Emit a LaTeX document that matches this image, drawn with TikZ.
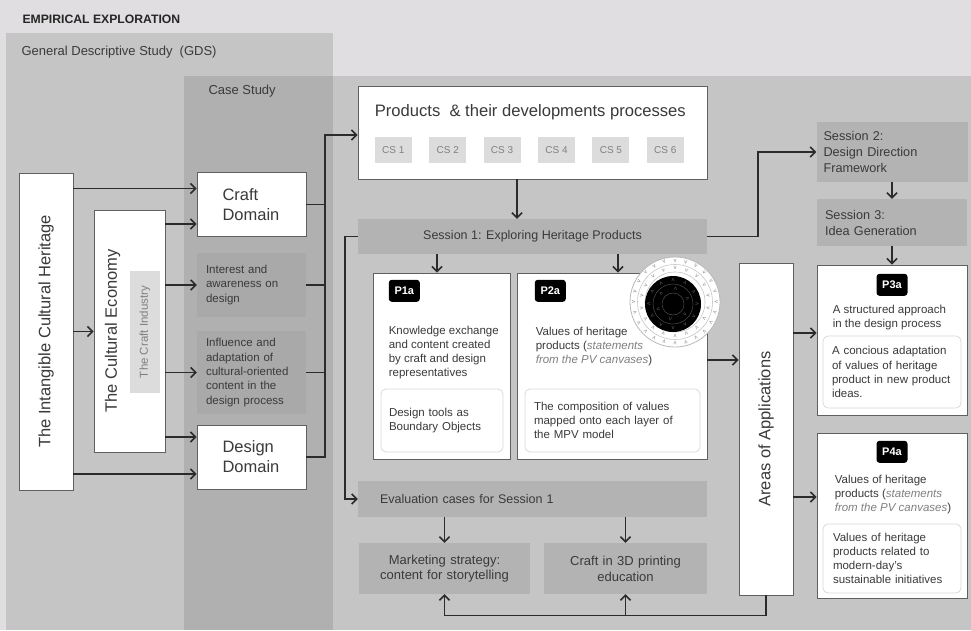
\documentclass[tikz,border=0pt]{standalone}
\usepackage{fontspec}
\setmainfont{Liberation Sans}
\usepackage{xcolor}
\usepackage{tikz}
\usetikzlibrary{arrows.meta, positioning, calc}

\definecolor{bandgray}{HTML}{E0DEE0}
\definecolor{panelgray}{HTML}{C5C5C5}
\definecolor{casegray}{HTML}{B0B0B0}
\definecolor{notegray}{HTML}{A9A9A9}
\definecolor{bargray}{HTML}{B3B3B3}
\definecolor{taggray}{HTML}{DCDCDC}
\definecolor{inkgray}{HTML}{3A3A3A}
\definecolor{boxline}{HTML}{606060}
\definecolor{innerline}{HTML}{DADADA}
\definecolor{linegray}{HTML}{2B2B2B}

\begin{document}
\begin{tikzpicture}[
    x=1pt, y=-1pt,
    card/.style={draw=boxline, fill=white, line width=0.8pt, text=inkgray},
    domainbox/.style={card, minimum width=109, minimum height=64, inner xsep=25.5pt, text width=58pt, align=left, font=\fontsize{16.5}{20}\selectfont},
    notebox/.style={fill=notegray, text=inkgray, minimum width=109, inner xsep=9pt, text width=91pt, align=left, font=\fontsize{11.5}{14.4}\selectfont},
    bar/.style={fill=bargray, text=inkgray, font=\fontsize{12.5}{16}\selectfont},
    cstag/.style={fill=taggray, text=gray, minimum width=37, minimum height=26, inner sep=0pt, font=\fontsize{10}{12}\selectfont},
    badge/.style={fill=black, text=white, rounded corners=3pt, minimum width=31, minimum height=22, inner sep=0pt, font=\fontsize{11}{13}\selectfont\bfseries},
    innerbox/.style={draw=innerline, fill=white, rounded corners=5pt, line width=0.8pt, text=inkgray, align=left, font=\fontsize{11.5}{14.2}\selectfont},
    body/.style={text=inkgray, align=left, inner sep=0pt, font=\fontsize{11.5}{14.2}\selectfont},
    vlabel/.style={rotate=90, text=inkgray, font=\fontsize{16.5}{20}\selectfont},
    chev/.style={text=gray!90, inner sep=0pt, font=\fontsize{6}{6}\selectfont},
    arrow/.style={-{Straight Barb[length=5pt, width=10pt]}, line width=1.6pt, draw=linegray},
    link/.style={line width=1.6pt, draw=linegray}
]
\useasboundingbox (0,0) rectangle (971,630);

\fill[bandgray] (0,0) rectangle (971,630);
\fill[panelgray] (6,33) rectangle (333,630);
\fill[panelgray] (333,76) rectangle (971,630);
\fill[casegray] (184,76) rectangle (333,630);

\node[anchor=west, text=black!85, font=\fontsize{12.2}{14}\selectfont\bfseries] (emp) at (19,19) {EMPIRICAL EXPLORATION};
\node[anchor=west, text=inkgray, font=\fontsize{13}{15}\selectfont] (gds) at (18,52) {General Descriptive Study~ (GDS)};
\node[anchor=west, text=inkgray, font=\fontsize{13}{15}\selectfont] (cstudy) at (205,91) {Case Study};

\node[card, rotate=90, minimum width=317, minimum height=54, font=\fontsize{16.5}{20}\selectfont] (ich) at (46,331.5) {The Intangible Cultural Heritage};
\node[card, rotate=90, minimum width=242, minimum height=71] (ce) at (129.5,331) {};
\node[vlabel] (celabel) at ([xshift=-17pt]ce.center) {The Cultural Economy};
\node[fill=taggray, text=gray, rotate=90, minimum width=122, minimum height=30, inner sep=0pt, font=\fontsize{11.5}{14}\selectfont] (ind) at (145,332) {The Craft Industry};

\node[domainbox] (craft) at (251.5,204.5) {Craft\\Domain};
\node[notebox, minimum height=64] (interest) at (251.5,285) {Interest and\\awareness on\\design};
\node[notebox, minimum height=83] (influence) at (251.5,372.5) {Influence and\\adaptation of\\cultural-oriented\\content in the\\design process};
\node[domainbox] (design) at (251.5,457) {Design\\Domain};

\node[card, minimum width=349, minimum height=93] (prod) at (532.5,132.5) {};
\node[text=inkgray, inner sep=0pt, anchor=north west, font=\fontsize{16.6}{19}\selectfont] (prodtitle) at ([xshift=17pt, yshift=-19pt]prod.north west) {Products\ \ \& their developments processes};
\node[cstag, below right=51pt and 17pt of prod.north west] (cs1) {CS 1};
\node[cstag, right=17pt of cs1] (cs2) {CS 2};
\node[cstag, right=17pt of cs2] (cs3) {CS 3};
\node[cstag, right=17pt of cs3] (cs4) {CS 4};
\node[cstag, right=17pt of cs4] (cs5) {CS 5};
\node[cstag, right=17pt of cs5] (cs6) {CS 6};

\node[bar, minimum width=349, minimum height=35] (s1) at (532.5,236.5) {Session 1: Exploring Heritage Products};

\node[card, minimum width=137, minimum height=186] (p1a) at (441.5,366) {};
\node[badge, below right=7pt and 16pt of p1a.north west] (b1) {P1a};
\node[body, below right=53pt and 16pt of p1a.north west] (t1) {Knowledge exchange\\and content created\\by craft and design\\representatives};
\node[innerbox, minimum width=122, minimum height=63, inner xsep=8pt, text width=106pt] (i1) at (442,420.5) {Design tools as\\Boundary Objects};

\node[card, minimum width=190, minimum height=186] (p2a) at (612,366) {};
\node[badge, below right=7pt and 18pt of p2a.north west] (b2) {P2a};
\node[body, below right=54pt and 19pt of p2a.north west] (t2) {Values of heritage\\products ({\color{gray}\itshape statements}\\{\color{gray}\itshape from the PV canvases})};
\node[innerbox, minimum width=175, minimum height=63, inner xsep=9pt, text width=157pt] (i2) at (612.5,420.5) {The composition of values\\mapped onto each layer of\\the MPV model};

\coordinate (mpv) at (675,302);
\draw[fill=white, draw=gray!55, line width=0.8pt] (mpv) circle[radius=45pt];
\draw[gray!45, line width=0.6pt] (mpv) circle[radius=37.5pt];
\draw[gray!45, line width=0.6pt] (mpv) circle[radius=30pt];
\fill[black] ([shift={(-2pt,-2pt)}]mpv) circle[radius=28pt];
\draw[gray!60!black, line width=0.5pt] ([shift={(-2pt,-2pt)}]mpv) circle[radius=20pt];
\draw[gray!60!black, line width=0.5pt] ([shift={(-2pt,-2pt)}]mpv) circle[radius=11pt];
\foreach \a in {0,15,...,345}
  \node[chev, rotate=\a-90] (mo\a) at ([shift={(\a:41.5pt)}]mpv) {v};
\foreach \a in {10,30,...,350}
  \node[chev, rotate=\a-90] (mm\a) at ([shift={(\a:33.8pt)}]mpv) {v};
\foreach \a in {0,30,...,330}
  \node[chev, text=gray!70!black, rotate=\a+90] (mi\a) at ([shift={(\a:24pt)}]$(mpv)+(-2,2)$) {v};
\foreach \a in {20,80,...,320}
  \node[chev, text=gray!70!black, rotate=\a+90] (mc\a) at ([shift={(\a:15.5pt)}]$(mpv)+(-2,2)$) {v};

\node[card, rotate=90, minimum width=332, minimum height=54, font=\fontsize{16.5}{20}\selectfont] (areas) at (766,429) {Areas of Applications};

\node[bar, minimum width=151, minimum height=60, inner xsep=7pt, text width=137pt, align=left, font=\fontsize{12.7}{16}\selectfont] (s2) at (892,152) {Session 2:\\Design Direction\\Framework};
\node[bar, minimum width=150, minimum height=47, inner xsep=8pt, text width=134pt, align=left, font=\fontsize{12.7}{16}\selectfont] (s3) at (892,222.5) {Session 3:\\Idea Generation};

\node[card, minimum width=150, minimum height=150] (p3a) at (892,340) {};
\node[badge, below=9pt of p3a.north] (b3) {P3a};
\node[body, below right=40pt and 16pt of p3a.north west] (t3) {A structured approach\\in the design process};
\node[innerbox, minimum width=138, minimum height=72, inner xsep=9pt, text width=120pt] (i3) at (892,372) {A concious adaptation\\of values of heritage\\product in new product\\ideas.};

\node[card, minimum width=150, minimum height=165] (p4a) at (892,515.5) {};
\node[badge, below=8pt of p4a.north] (b4) {P4a};
\node[body, below right=42pt and 18pt of p4a.north west] (t4) {Values of heritage\\products ({\color{gray}\itshape statements}\\{\color{gray}\itshape from the PV canvases})};
\node[innerbox, minimum width=138, minimum height=69, inner xsep=10pt, text width=118pt] (i4) at (892,558.5) {Values of heritage\\products related to\\modern-day's\\sustainable initiatives};

\node[bar, minimum width=349, minimum height=36, inner xsep=22pt, text width=305pt, align=left] (eval) at (532.5,499) {Evaluation cases for Session 1};
\node[bar, minimum width=171, minimum height=51, text width=163pt, align=center, font=\fontsize{13}{15.7}\selectfont] (mkt) at (444.5,568.5) {Marketing strategy:\\content for storytelling};
\node[bar, minimum width=163, minimum height=51, text width=155pt, align=center, font=\fontsize{13}{15.7}\selectfont] (c3d) at (625.5,568.5) {Craft in 3D printing\\education};

\coordinate (c1) at ([yshift=16pt]craft.west);
\coordinate (c2) at ([yshift=-19.5pt]craft.west);
\coordinate (c3) at ([yshift=20pt]design.west);
\coordinate (c4) at ([yshift=-17pt]design.west);
\draw[arrow] (ich.south) -- (ich.south -| ce.north);
\draw[arrow] (c1 -| ich.south) -- (c1);
\draw[arrow] (c2 -| ce.south) -- (c2);
\draw[arrow] (interest.west -| ce.south) -- (interest.west);
\draw[arrow] (influence.west -| ce.south) -- (influence.west);
\draw[arrow] (c3 -| ce.south) -- (c3);
\draw[arrow] (c4 -| ich.south) -- (c4);

\coordinate (bus) at (325,135);
\draw[arrow] (design.east) -| (bus) -- (prod.west |- bus);
\draw[link] (craft.east) -- (craft.east -| bus);
\draw[link] (interest.east) -- (interest.east -| bus);
\draw[link] (influence.east) -- (influence.east -| bus);

\coordinate (pd) at ([xshift=-15.5pt]prod.south);
\draw[arrow] (pd) -- (pd |- s1.north);
\coordinate (d1) at ([xshift=-4.5pt]p1a.north);
\coordinate (d2) at ([xshift=6pt]p2a.north);
\draw[arrow] (d1 |- s1.south) -- (d1);
\draw[arrow] (d2 |- s1.south) -- (d2);
\draw[arrow] (s1.west) -- ++(-13,0) |- (eval.west);
\draw[arrow] (s1.east) -- ++(51,0) |- (s2.west);
\draw[arrow] (s2.south) -- (s3.north);
\draw[arrow] (s3.south) -- (p3a.north);

\coordinate (pa) at ([yshift=6pt]p2a.east);
\coordinate (a3) at ([yshift=7pt]p3a.west);
\coordinate (a4) at ([yshift=18.5pt]p4a.west);
\draw[arrow] (pa) -- (pa -| areas.north);
\draw[arrow] (a3 -| areas.south) -- (a3);
\draw[arrow] (a4 -| areas.south) -- (a4);

\coordinate (bot) at ([yshift=-20pt]areas.west);
\draw[arrow] (areas.west) -- (bot) -| (mkt.south);
\draw[arrow] (bot -| c3d.south) -- (c3d.south);
\draw[arrow] (eval.south -| mkt.north) -- (mkt.north);
\draw[arrow] (eval.south -| c3d.north) -- (c3d.north);

\end{tikzpicture}
\end{document}
